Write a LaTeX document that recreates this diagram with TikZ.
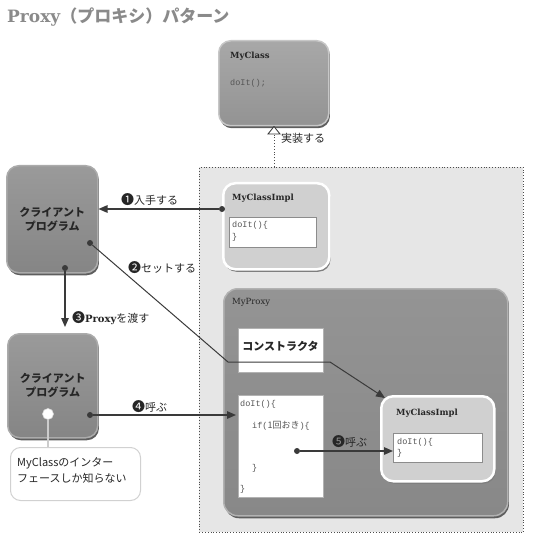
\documentclass[tikz,border=0pt]{standalone}
\usepackage{fontspec}
\setmainfont{Noto Sans CJK JP}
\newfontfamily\jpfont{Noto Sans CJK JP}
\newfontfamily\slab{DejaVu Serif}
\newfontfamily\code{Liberation Mono}
\newfontfamily\dv{DejaVu Sans}
\usetikzlibrary{arrows.meta,shadows}
\definecolor{titlec}{HTML}{8A8A8A}
\definecolor{cboxtop}{HTML}{9A9A9A}
\definecolor{cboxbot}{HTML}{858585}
\definecolor{crimc}{HTML}{ABABAB}
\definecolor{mctop}{HTML}{A8A8A8}
\definecolor{mcbot}{HTML}{939393}
\definecolor{proxytop}{HTML}{949494}
\definecolor{proxybot}{HTML}{888888}
\definecolor{implc}{HTML}{D0D0D0}
\definecolor{regc}{HTML}{E6E6E6}
\definecolor{shadc}{HTML}{5E5E5E}
\definecolor{linec}{HTML}{3A3A3A}
\definecolor{textc}{HTML}{262626}
\definecolor{codec}{HTML}{555555}
\newcommand{\cnum}[1]{{\fontsize{13}{13}\selectfont #1}}
\begin{document}
\begin{tikzpicture}[x=1pt,y=-1pt,
  graybox/.style={rounded corners=12pt, top color=cboxtop, bottom color=cboxbot, draw=crimc, line width=1.5pt,
    drop shadow={shadow xshift=1.2pt, shadow yshift=-2.5pt, fill=shadc, opacity=1},
    anchor=north west, inner sep=0pt, text=textc},
  implbox/.style={rounded corners=12pt, fill=implc, draw=white, line width=2.5pt,
    drop shadow={shadow xshift=1.2pt, shadow yshift=-2.5pt, fill=shadc!80, opacity=1},
    anchor=north west, inner sep=0pt},
  whitebox/.style={fill=white, draw=black!45, line width=0.6pt, anchor=north west, inner sep=0pt},
  jpb/.style={font=\bfseries\fontsize{11}{14}\selectfont, text=textc},
  lbl/.style={font=\fontsize{11}{13}\selectfont, text=textc, anchor=west, inner sep=0pt},
  cls/.style={font=\slab\bfseries\fontsize{8.5}{10}\selectfont, text=textc, anchor=west, inner sep=0pt},
  codet/.style={font=\code\fontsize{8.5}{10}\selectfont, text=codec, anchor=west, inner sep=0pt},
  dot/.style={circle, fill=linec, inner sep=0pt, minimum size=6pt},
  arr/.style={draw=linec, line width=1.3pt, -{Triangle[length=9pt,width=7.5pt]}},
  arrthin/.style={draw=linec, line width=1pt, -{Triangle[length=9pt,width=7.5pt]}}
]
\useasboundingbox (0,0) rectangle (538,545);

% title
\node[anchor=west, inner sep=0pt, text=titlec, font=\bfseries\fontsize{17}{19}\selectfont] (title) at (7,17)
  {{\slab\bfseries Proxy}（プロキシ）パターン};

% dotted region
\node[fill=regc, draw=black!70, dotted, line width=0.8pt, anchor=north west, inner sep=0pt,
  minimum width=324pt, minimum height=365pt] (reg) at (199,167) {};

% MyClass
\node[graybox, top color=mctop, bottom color=mcbot, draw=black!22, minimum width=110pt, minimum height=85pt] (mc) at (218,40) {};
\node[cls] (mcname) at (230,56) {MyClass};
\node[codet] (mccode) at (230,83) {doIt();};

% implements
\coordinate (tribase) at (274,135);
\coordinate (trifoot) at (274,167);
\draw[dotted, line width=0.9pt, draw=black!70] (trifoot) -- (tribase);
\draw[line width=0.8pt, draw=black!80, fill=white] (268,134) -- (274,126.5) -- (280,134) -- cycle;
\node[lbl] (implbl) at (281,138) {実装する};

% MyClassImpl top
\node[implbox, minimum width=106pt, minimum height=86pt] (impl1) at (222,182) {};
\node[cls] (impl1name) at (232,198) {MyClassImpl};
\node[whitebox, minimum width=87pt, minimum height=30pt] (code1) at (229,217) {};
\node[codet] (code1a) at (232,225) {doIt()\{};
\node[codet] (code1b) at (232,237) {\}};

% client boxes
\node[graybox, minimum width=91pt, minimum height=107pt, align=center, jpb] (c1) at (6,165) {クライアント\\プログラム};
\node[graybox, minimum width=90pt, minimum height=104pt, align=center, jpb] (c2) at (7,333) {クライアント\\プログラム};

% MyProxy
\node[graybox, top color=proxytop, bottom color=proxybot, draw=black!30, rounded corners=14pt, minimum width=284pt, minimum height=227pt] (mp) at (223,288) {};
\node[cls, font=\slab\fontsize{8.5}{10}\selectfont] (mpname) at (232,302) {MyProxy};

% constructor
\node[whitebox, draw=black!30, minimum width=85pt, minimum height=44pt] (ctor) at (238,328) {};
\node[jpb, inner sep=0pt] (ctortext) at (280.5,346) {コンストラクタ};

% doIt box
\node[whitebox, draw=black!30, minimum width=85pt, minimum height=102pt] (dbox) at (238,395) {};
\node[codet] (d1a) at (240,404) {doIt()\{};
\node[codet] (d1b) at (252,426) {if({\jpfont\fontsize{9}{10}\selectfont 1回おき})\{};
\node[codet] (d1c) at (252,468) {\}};
\node[codet] (d1d) at (240,489) {\}};

% MyClassImpl bottom
\node[implbox, minimum width=113pt, minimum height=85pt] (impl2) at (380,395) {};
\node[cls] (impl2name) at (396,413) {MyClassImpl};
\node[whitebox, minimum width=89pt, minimum height=29pt] (code2) at (393,433) {};
\node[codet] (code2a) at (397,442) {doIt()\{};
\node[codet] (code2b) at (397,453) {\}};

% callout
\node[fill=white, draw=black!18, line width=1pt, rounded corners=10pt, anchor=north west, inner sep=0pt,
  minimum width=130pt, minimum height=53pt] (call) at (10,447) {};
\node[anchor=north west, align=left, inner sep=0pt, text=textc, font=\fontsize{11}{16}\selectfont] (calltext) at (17,457)
  {MyClassのインター\\フェースしか知らない};
\node[circle, fill=white, draw=black!15, line width=0.6pt, inner sep=0pt, minimum size=11pt] (wc) at (48,414) {};
\draw[draw=black!20, line width=1.6pt] (wc) -- (wc |- call.north);

% dots
\node[dot] (p1) at (222,209) {};
\node[dot] (p2) at (90,243) {};
\node[dot] (p3) at (65,268) {};
\node[dot] (p4) at (90,415) {};
\node[dot] (p5) at (297,451) {};

% arrows
\draw[arr] (p1) -- (p1 -| c1.east);
\coordinate (b1) at (228,362);
\coordinate (b2) at (330,362);
\coordinate (a2end) at (385,398);
\draw[arrthin] (p2) -- (b1) -- (b2) -- (a2end);
\draw[arr, shorten >=6pt] (p3) -- (p3 |- c2.north);
\draw[arr, shorten >=2pt] (p4) -- (p4 -| dbox.west);
\draw[arr] (p5) -- (p5 -| code2.west);

% labels
\node[lbl] (l1) at (121,200) {\cnum{❶}入手する};
\node[lbl] (l2) at (128,268) {\cnum{❷}セットする};
\node[lbl] (l3) at (72,318) {\cnum{❸}{\slab\bfseries\fontsize{10}{12}\selectfont Proxy}を渡す};
\node[lbl] (l4) at (132,407) {\cnum{❹}呼ぶ};
\node[lbl] (l5) at (332,442) {\cnum{❺}呼ぶ};
\end{tikzpicture}
\end{document}
